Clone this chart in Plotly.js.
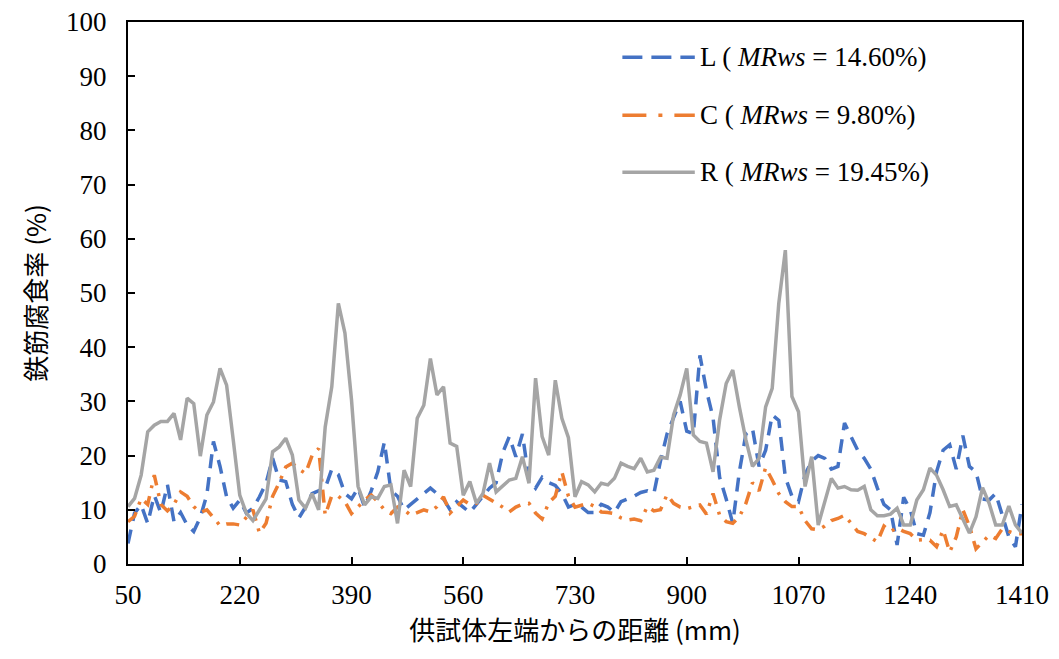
<!DOCTYPE html>
<html>
<head>
<meta charset="utf-8">
<script src="https://cdn.plot.ly/plotly-3.0.1.min.js"></script>
<style>html,body{margin:0;padding:0;background:#fff;}#chart{width:1059px;height:659px;}</style>
</head>
<body>
<div id="chart"></div>
<script>
// Distance from left end of specimen (mm)
var distance = [50,60,70,80,90,100,110,120,130,140,150,160,170,180,190,200,210,220,230,240,
250,260,270,280,290,300,310,320,330,340,350,360,370,380,390,400,410,420,430,440,
450,460,470,480,490,500,510,520,530,540,550,560,570,580,590,600,610,620,630,640,
650,660,670,680,690,700,710,720,730,740,750,760,770,780,790,800,810,820,830,840,
850,860,870,880,890,900,910,920,930,940,950,960,970,980,990,1000,1010,1020,1030,1040,
1050,1060,1070,1080,1090,1100,1110,1120,1130,1140,1150,1160,1170,1180,1190,1200,1210,1220,1230,1240,
1250,1260,1270,1280,1290,1300,1310,1320,1330,1340,1350,1360,1370,1380,1390,1400,1410];

var seriesL = [3.8,9.4,10.9,7.5,12.7,9.4,14.6,7.8,9.5,7.2,6.0,8.6,12.8,22.6,18.0,12.4,10.3,11.8,9.4,10.3,
12.4,14.9,19.5,15.5,15.2,11.0,8.5,10.5,13.0,13.5,14.0,17.5,16.5,13.0,12.0,14.0,10.5,13.5,17.0,22.5,
13.5,12.5,10.0,11.0,12.0,13.0,14.0,13.0,12.0,10.0,11.5,10.5,9.5,11.0,12.5,14.0,15.0,20.5,23.5,19.8,
24.0,15.5,14.0,16.0,15.0,14.5,13.0,10.5,11.0,10.5,9.5,9.5,11.0,10.5,9.5,11.5,12.0,12.5,13.2,13.5,
13.0,19.0,24.0,27.0,30.0,24.5,24.0,38.5,32.0,27.0,16.0,12.0,7.5,17.0,24.0,25.0,18.0,21.0,27.5,26.5,
16.0,12.5,11.5,16.5,19.0,20.0,19.5,17.5,18.0,26.0,23.5,21.0,19.5,17.5,14.0,11.0,10.0,3.5,12.3,10.0,
5.6,5.3,9.5,17.0,21.0,22.0,17.5,23.7,18.0,17.0,12.0,11.8,13.0,9.0,5.0,3.2,11.0];

var seriesC = [7.8,8.8,12.1,11.0,16.4,11.0,9.8,11.0,13.3,12.5,10.6,9.5,10.0,8.6,7.1,7.4,7.4,7.2,8.5,10.0,
5.7,7.5,12.5,15.0,17.9,18.6,17.5,16.7,20.0,21.3,9.0,12.6,12.5,11.5,9.3,10.5,11.8,12.7,11.5,10.0,
9.3,10.5,10.0,9.0,9.5,10.0,9.6,10.6,12.4,9.4,10.6,11.8,11.0,11.2,12.7,12.0,11.2,10.5,9.6,10.5,
11.0,11.2,9.4,8.3,11.3,12.5,17.0,12.5,10.5,10.8,11.2,10.6,9.6,9.5,9.3,8.5,8.1,8.3,8.0,10.6,
9.8,10.0,12.8,11.2,10.5,10.2,10.5,10.9,9.2,13.0,9.0,7.8,7.5,8.7,11.2,15.0,13.5,17.8,15.5,13.0,
11.5,10.6,10.6,8.0,6.5,6.3,7.0,8.0,8.4,9.0,7.5,6.0,5.6,4.8,4.1,7.0,6.0,6.7,6.0,5.6,
4.4,4.5,4.4,3.2,6.3,2.2,5.0,10.0,7.0,2.8,4.1,5.3,4.7,6.5,6.0,5.6,5.6];

var seriesR = [10.6,12.1,16.4,24.4,25.6,26.3,26.3,27.8,22.9,30.6,29.6,19.9,27.5,29.9,36.1,33.0,23.0,12.7,9.4,8.0,
10.0,12.0,20.7,21.6,23.2,20.1,11.8,10.3,13.0,10.0,25.3,32.7,48.1,42.6,30.3,14.3,10.9,12.4,12.1,14.3,
14.6,7.5,17.3,14.3,26.9,29.3,37.9,31.2,32.7,22.3,21.7,12.7,15.2,11.2,13.0,18.6,13.3,14.3,15.5,15.8,
19.8,14.9,34.3,23.5,20.1,33.9,26.9,23.3,12.4,15.2,14.6,13.3,14.9,14.6,15.8,18.6,18.0,17.6,19.5,17.0,
17.3,19.7,19.5,27.5,31.2,36.1,23.8,22.6,22.3,17.0,26.6,33.3,35.8,29.0,22.9,18.0,19.5,29.0,32.4,48.1,
57.9,30.9,28.1,14.3,19.8,7.2,11.8,15.8,14.0,14.3,13.7,13.6,14.3,10.0,8.9,8.9,9.2,10.3,7.2,7.2,
11.8,13.7,17.7,16.4,13.7,10.6,10.9,8.4,5.7,8.7,14.1,11.2,7.2,7.2,10.7,7.2,5.7];

var seriesNames = ['L ( <i>MRws</i> = 14.60%)', 'C ( <i>MRws</i> = 9.80%)', 'R ( <i>MRws</i> = 19.45%)'];
var seriesColors = ['#4472C4', '#ED7D31', '#A5A5A5'];
var seriesDash = ['14px,9px', '13px,8px,3px,8px', 'solid'];
var xTickVals = [50,220,390,560,730,900,1070,1240,1410];
var xTitle = '供試体左端からの距離 (mm)';
var yTitle = '鉄筋腐食率 (%)';

var fontFam = '"Liberation Serif", "Times New Roman", "Noto Sans CJK JP", serif';
var cjkFam = '"Noto Sans CJK JP", "Liberation Serif", serif';

var ys = [seriesL, seriesC, seriesR];
var traces = ys.map(function (y, i) {
  return {x: distance, y: y, name: seriesNames[i], mode: 'lines', showlegend: false,
          line: {color: seriesColors[i], width: 3.5, dash: seriesDash[i]}};
});

// Custom legend (longer sample lines, like the reference)
var legY = [0.935, 0.828, 0.723];
var shapes = [], annotations = [];
legY.forEach(function (yy, i) {
  shapes.push({type: 'line', xref: 'paper', yref: 'paper', x0: 0.553, x1: 0.634, y0: yy, y1: yy,
               line: {color: seriesColors[i], width: 3.5, dash: i === 0 ? '20px,9px' : (i === 1 ? '24px,12px,4px,12px' : 'solid')}});
  annotations.push({xref: 'paper', yref: 'paper', x: 0.638, y: yy, xanchor: 'left', yanchor: 'middle',
                    text: seriesNames[i], showarrow: false, font: {family: fontFam, size: 27, color: '#000'}});
});

var layout = {
  width: 1059, height: 659,
  margin: {l: 128, r: 37, t: 22, b: 95},
  paper_bgcolor: '#fff', plot_bgcolor: '#fff',
  font: {family: fontFam, size: 27, color: '#000'},
  showlegend: false,
  shapes: shapes,
  annotations: annotations,
  xaxis: {range: [50, 1410], tickvals: xTickVals, ticktext: xTickVals.map(String),
          showgrid: false, zeroline: false, showline: true, linecolor: '#000', linewidth: 2,
          mirror: true, ticks: 'inside', ticklen: 7, tickwidth: 2, tickcolor: '#000',
          ticklabelstandoff: 6,
          tickfont: {family: fontFam, size: 27},
          title: {text: xTitle, font: {family: cjkFam, size: 26}, standoff: 10}},
  yaxis: {range: [0, 100], dtick: 10, tick0: 0,
          showgrid: false, zeroline: false, showline: true, linecolor: '#000', linewidth: 2,
          mirror: true, ticks: 'inside', ticklen: 7, tickwidth: 2, tickcolor: '#000',
          ticklabelstandoff: 14,
          tickfont: {family: fontFam, size: 27},
          title: {text: yTitle, font: {family: cjkFam, size: 26}, standoff: 12}}
};

Plotly.newPlot('chart', traces, layout, {displayModeBar: false, staticPlot: true});
</script>
</body>
</html>
